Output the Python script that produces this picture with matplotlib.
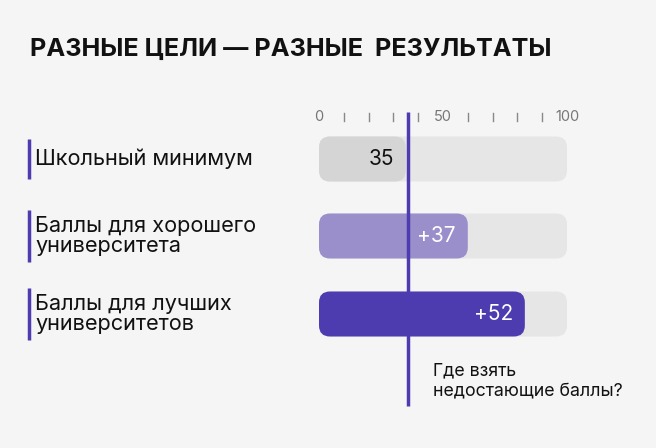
import matplotlib
matplotlib.use("Agg")
import matplotlib.pyplot as plt
from matplotlib.patches import FancyBboxPatch

plt.rcParams["font.family"] = ["Inter", "DejaVu Sans"]

title = "РАЗНЫЕ ЦЕЛИ — РАЗНЫЕ  РЕЗУЛЬТАТЫ"
categories = ["Школьный минимум", "Баллы для хорошего\nуниверситета", "Баллы для лучших\nуниверситетов"]
values = [35, 60, 83]
value_labels = ["35", "+37", "+52"]
threshold = 36
tick_labels = {0: "0", 50: "50", 100: "100"}
note = "Где взять\nнедостающие баллы?"

bar_colors = ["#d5d5d5", "#9b8fcb", "#4d3bb0"]
text_colors = ["#111111", "white", "white"]
track_color = "#e6e6e6"
line_color = "#4d3bb0"
bg = "#f5f5f5"

S = 2.48  # pixels per value unit
X0 = 319  # pixel x of value 0
W, H = 656, 448


def px(x):
    return (x - X0) / S


def py(y):
    return y / S


fig = plt.figure(figsize=(W / 100, H / 100), dpi=100, facecolor=bg)
ax = fig.add_axes([0, 0, 1, 1])
ax.set_facecolor(bg)
ax.set_xlim(px(0), px(W))
ax.set_ylim(py(H), py(0))
ax.set_aspect("equal")
ax.axis("off")

ax.text(px(30), py(49), title, fontsize=18.2, fontweight="bold", va="center", ha="left", color="#111111")

# ticks
for t in range(0, 101, 10):
    if t in tick_labels:
        ax.text(t, py(117), tick_labels[t], fontsize=10.5, ha="center", va="center", color="#777777")
    else:
        ax.plot([t, t], [py(113), py(121)], color="#888888", lw=1)

centers = [159, 236, 314]
bar_h = py(45)
rad = py(11)
for i, (cat, v, lab) in enumerate(zip(categories, values, value_labels)):
    yc = py(centers[i])
    ax.add_patch(FancyBboxPatch((rad, yc - bar_h / 2 + rad), 100 - 2 * rad, bar_h - 2 * rad,
                                boxstyle=f"round,pad={rad}", fc=track_color, ec="none"))
    ax.add_patch(FancyBboxPatch((rad, yc - bar_h / 2 + rad), v - 2 * rad, bar_h - 2 * rad,
                                boxstyle=f"round,pad={rad}", fc=bar_colors[i], ec="none"))
    ax.text(v - py(12), yc, lab, fontsize=15, ha="right", va="center", color=text_colors[i])
    nlines = cat.count("\n") + 1
    half = py(20 if nlines == 1 else 26)
    ax.plot([px(29), px(29)], [yc - half, yc + half], color=line_color, lw=2.5, solid_capstyle="butt")
    ax.text(px(35), yc, cat, fontsize=15.6, ha="left", va="center", color="#111111", linespacing=1.05)

ax.plot([threshold, threshold], [py(112), py(406)], color=line_color, lw=2.5, solid_capstyle="butt")
ax.text(px(433), py(381), note, fontsize=12.8, ha="left", va="center", color="#111111", linespacing=1.2)

fig.savefig("out.png", dpi=100, facecolor=bg)
